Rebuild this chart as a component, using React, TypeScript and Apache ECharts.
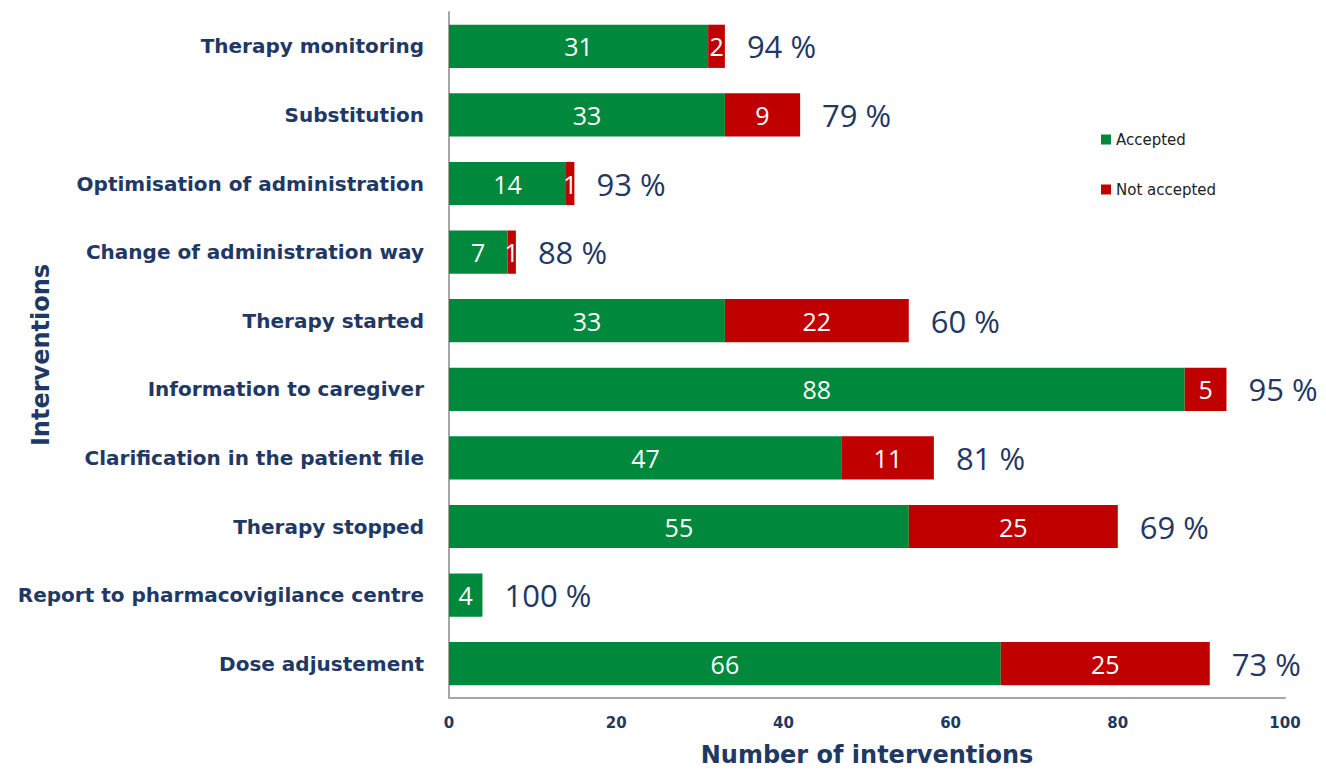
import React, { useEffect, useRef } from "react";
import * as echarts from "echarts";

const categories = [
  "Dose adjustement",
  "Report to pharmacovigilance centre",
  "Therapy stopped",
  "Clarification in the patient file",
  "Information to caregiver",
  "Therapy started",
  "Change of administration way",
  "Optimisation of administration",
  "Substitution",
  "Therapy monitoring",
];
const accepted = [66, 4, 55, 47, 88, 33, 7, 14, 33, 31];
const notAccepted = [25, 0, 25, 11, 5, 22, 1, 1, 9, 2];
const percentLabels = ["73 %", "100 %", "69 %", "81 %", "95 %", "60 %", "88 %", "93 %", "79 %", "94 %"];
const xTicks = [0, 20, 40, 60, 80, 100];

const NAVY = "#1F3864";
const GREEN = "#00893C";
const RED = "#C00000";
const BOLD_FONT = "'DejaVu Sans', sans-serif";
const FONT = "'Open Sans', sans-serif";

export default function App() {
  const ref = useRef<HTMLDivElement>(null);
  useEffect(() => {
    const chart = echarts.init(ref.current!, null, { renderer: "svg" });
    chart.setOption({
      animation: false,
      textStyle: { fontFamily: FONT },
      grid: { left: 449, right: 41, top: 12, bottom: 74, containLabel: false, outerBoundsMode: "none" },
      legend: {
        orient: "vertical",
        left: 1096,
        top: 127,
        itemGap: 35,
        itemWidth: 10,
        itemHeight: 10,
        icon: "rect",
        data: ["Accepted", "Not accepted"],
        textStyle: { fontFamily: "'DejaVu Sans', sans-serif", fontSize: 15, color: "#222" },
      },
      xAxis: {
        type: "value",
        min: xTicks[0],
        max: xTicks[xTicks.length - 1],
        interval: 20,
        name: "Number of interventions",
        nameLocation: "middle",
        nameGap: 45,
        nameMoveOverlap: false,
        nameTextStyle: { fontFamily: BOLD_FONT, fontSize: 24, fontWeight: "bold", color: NAVY },
        axisLine: { show: true, lineStyle: { color: "#A6A6A6", width: 2 } },
        axisTick: { show: false },
        splitLine: { show: false },
        axisLabel: { fontFamily: BOLD_FONT, fontSize: 15, fontWeight: "bold", color: NAVY, margin: 17 },
      },
      yAxis: {
        type: "category",
        data: categories,
        name: "Interventions",
        nameLocation: "middle",
        nameGap: 396,
        nameMoveOverlap: false,
        nameRotate: 90,
        nameTextStyle: { fontFamily: BOLD_FONT, fontSize: 24, fontWeight: "bold", color: NAVY },
        axisLine: { show: true, lineStyle: { color: "#A6A6A6", width: 2 } },
        axisTick: { show: false },
        axisLabel: { fontFamily: BOLD_FONT, fontSize: 20, fontWeight: "bold", color: NAVY, margin: 25 },
      },
      series: [
        {
          name: "Accepted",
          type: "bar",
          stack: "total",
          data: accepted,
          barCategoryGap: "37%",
          itemStyle: { color: GREEN },
          label: { show: true, position: "inside", color: "#fff", fontSize: 25, fontFamily: FONT },
        },
        {
          name: "Not accepted",
          type: "bar",
          stack: "total",
          data: notAccepted,
          itemStyle: { color: RED },
          label: {
            show: true,
            position: "inside",
            color: "#fff",
            fontSize: 25,
            fontFamily: FONT,
            formatter: (p: any) => (p.value > 0 ? String(p.value) : ""),
          },
        },
        {
          name: "pct",
          type: "bar",
          stack: "total",
          data: notAccepted.map(() => 0),
          itemStyle: { color: "transparent" },
          label: {
            show: true,
            position: "right",
            distance: 22,
            color: NAVY,
            fontSize: 31,
            fontFamily: FONT,
            formatter: (p: any) => percentLabels[p.dataIndex],
          },
          tooltip: { show: false },
        },
      ],
    });
    return () => chart.dispose();
  }, []);
  return <div ref={ref} style={{ width: 1326, height: 772, position: "absolute", left: 0, top: 0 }} />;
}
